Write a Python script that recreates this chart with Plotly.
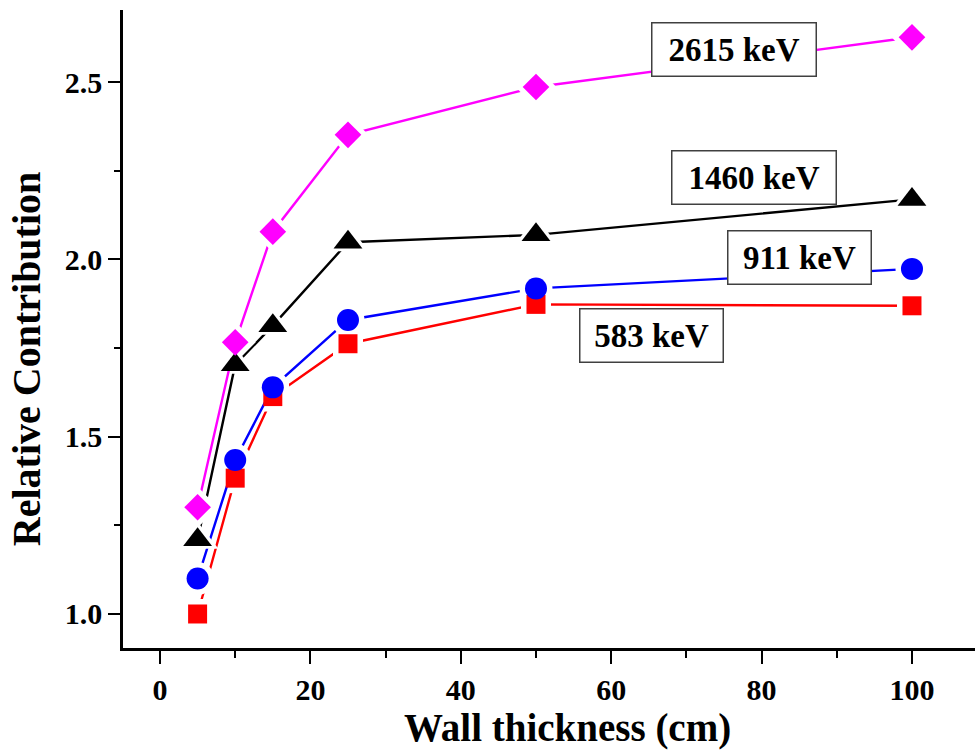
import plotly.graph_objects as go

# Wall thickness (cm)
thickness = [5, 10, 15, 25, 50, 100]

# Relative contribution per gamma line
rel_583 = [1.00, 1.383, 1.613, 1.762, 1.873, 1.869]
rel_911 = [1.10, 1.434, 1.639, 1.829, 1.918, 1.973]
rel_1460 = [1.209, 1.703, 1.813, 2.048, 2.069, 2.169]
rel_2615 = [1.301, 1.766, 2.078, 2.351, 2.486, 2.626]

labels = ["583 keV", "911 keV", "1460 keV", "2615 keV"]
# label box centres (x in cm, y in relative contribution)
label_x = [65.3, 85.0, 79.0, 76.3]
label_y = [1.784, 2.004, 2.231, 2.593]

x_ticks = [0, 20, 40, 60, 80, 100]
y_ticks = [1.0, 1.5, 2.0, 2.5]

FONT = "Liberation Serif"

series = [
    (rel_583, "#FF0000", "square", 19),
    (rel_911, "#0000FF", "circle", 22),
    (rel_1460, "#000000", "triangle-up", 25),
    (rel_2615, "#FF00FF", "diamond", 20.5),
]

fig = go.Figure()

# connecting lines, with a white halo around each point so the line stops short of it
for vals, color, sym, size in series:
    fig.add_trace(go.Scatter(
        x=thickness, y=vals, mode="lines+markers",
        line=dict(color=color, width=2.4),
        marker=dict(symbol=sym, size=size + 11, color="white", line=dict(width=0)),
        showlegend=False, hoverinfo="skip",
    ))

# filled symbols on top
for vals, color, sym, size in series:
    fig.add_trace(go.Scatter(
        x=thickness, y=vals, mode="markers",
        marker=dict(symbol=sym, size=size, color=color, line=dict(width=0)),
        showlegend=False,
    ))

for text, lx, ly in zip(labels, label_x, label_y):
    fig.add_annotation(
        x=lx, y=ly, xref="x", yref="y", text=text, showarrow=False,
        font=dict(family=FONT, size=33, color="black", weight="bold"),
        bgcolor="white", bordercolor="#404040", borderwidth=1.5, borderpad=0,
        width=(142 if len(text) == 7 else 163), height=52,
        xanchor="center", yanchor="middle",
    )

# axis titles
fig.add_annotation(
    x=0.5217, y=-0.126, xref="paper", yref="paper", text="Wall thickness (cm)",
    showarrow=False, xanchor="center", yanchor="middle",
    font=dict(family=FONT, size=39, color="black", weight="bold"),
)
fig.add_annotation(
    x=-0.1125, y=0.453, xref="paper", yref="paper", text="Relative Contribution",
    showarrow=False, xanchor="center", yanchor="middle", textangle=-90,
    font=dict(family=FONT, size=40, color="black", weight="bold"),
)

fig.update_xaxes(
    range=[-4.92, 108.38], tickvals=x_ticks, showgrid=False, zeroline=False,
    showline=True, linecolor="black", linewidth=2.5,
    ticks="outside", ticklen=13, tickwidth=2, tickcolor="black",
    minor=dict(dtick=10, tick0=0, ticks="outside", ticklen=7, tickwidth=2,
               tickcolor="black", showgrid=False),
    tickfont=dict(family=FONT, size=30, color="black", weight="bold"),
)
fig.update_yaxes(
    range=[0.9041, 2.703], tickvals=y_ticks, tickformat=".1f",
    showgrid=False, zeroline=False,
    showline=True, linecolor="black", linewidth=2.5,
    ticks="outside", ticklen=12, tickwidth=2, tickcolor="black",
    minor=dict(dtick=0.25, tick0=0, ticks="outside", ticklen=6, tickwidth=2,
               tickcolor="black", showgrid=False),
    tickfont=dict(family=FONT, size=30, color="black", weight="bold"),
)

fig.update_layout(
    width=980, height=752,
    margin=dict(l=123, r=5, t=10, b=104),
    paper_bgcolor="white", plot_bgcolor="white",
    showlegend=False,
)

fig.write_html("out.html")
